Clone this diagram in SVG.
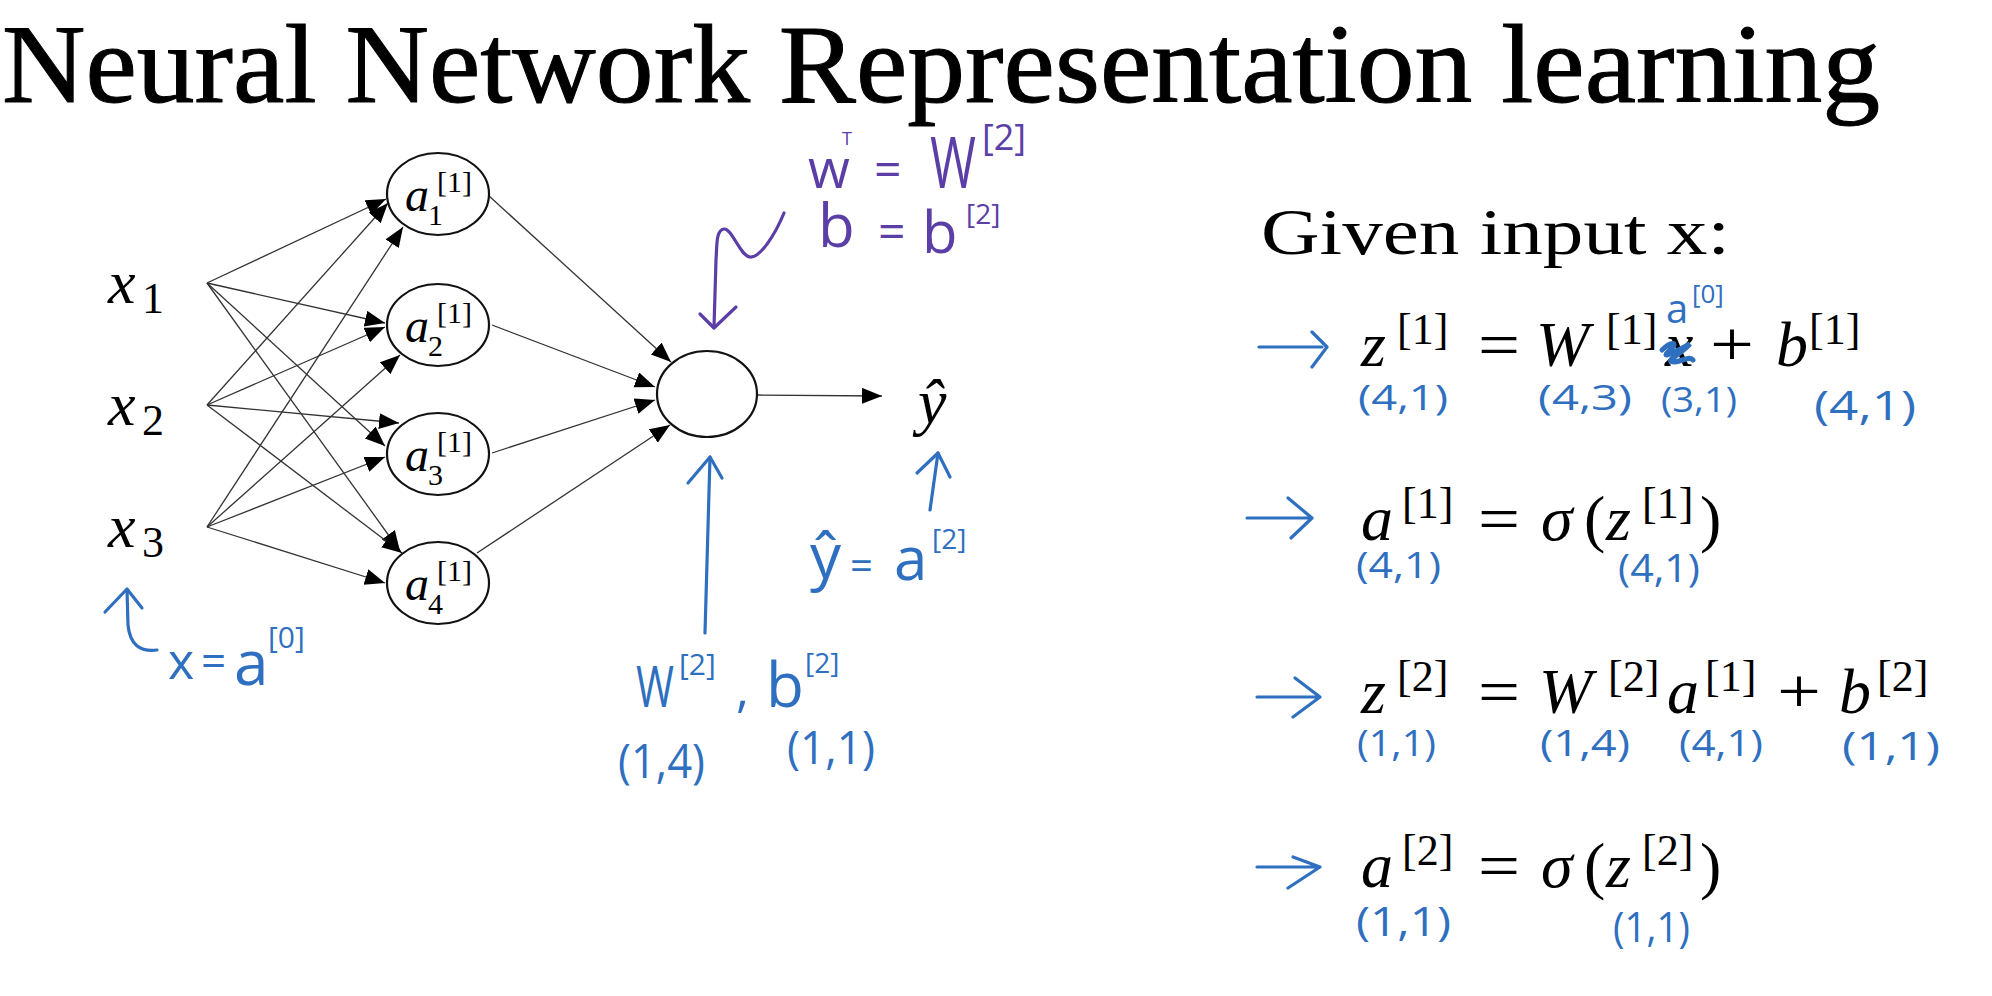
<svg xmlns="http://www.w3.org/2000/svg" width="1992" height="996" viewBox="0 0 1992 996">
<defs>
<style>
.title{font-family:"Liberation Serif","Times New Roman",serif;fill:#000}
.m{font-family:"Liberation Serif","Times New Roman",serif;fill:#000}
.mi{font-family:"Liberation Serif","Times New Roman",serif;font-style:italic;fill:#000}
.node{fill:#fff;stroke:#111;stroke-width:2.2}
.edge{stroke:#333;stroke-width:1.3;fill:none}
.hb{font-family:"Open Sans","Liberation Sans",sans-serif;fill:#2f6fbf}
.hp{font-family:"Open Sans","Liberation Sans",sans-serif;fill:#5b3ea6}
.sb{stroke:#2f6fbf;stroke-width:3.2;fill:none;stroke-linecap:round;stroke-linejoin:round}
.sp{stroke:#5b3ea6;stroke-width:3.2;fill:none;stroke-linecap:round;stroke-linejoin:round}
</style>
<marker id="ah" markerUnits="userSpaceOnUse" markerWidth="22" markerHeight="18" refX="20" refY="8" orient="auto">
<path d="M0,0 L20,8 L0,16 z" fill="#000"/>
</marker>
</defs>
<rect width="1992" height="996" fill="#fff"/>

<text class="title" x="2" y="102" font-size="112" stroke="#000" stroke-width="1" textLength="1878" lengthAdjust="spacingAndGlyphs">Neural Network Representation learning</text>

<g id="connectors">
<line class="edge" x1="207" y1="283" x2="386" y2="199" marker-end="url(#ah)"/>
<line class="edge" x1="207" y1="283" x2="385" y2="323" marker-end="url(#ah)"/>
<line class="edge" x1="207" y1="283" x2="385" y2="446" marker-end="url(#ah)"/>
<line class="edge" x1="207" y1="283" x2="400" y2="551" marker-end="url(#ah)"/>
<line class="edge" x1="207" y1="405" x2="388" y2="203" marker-end="url(#ah)"/>
<line class="edge" x1="207" y1="405" x2="385" y2="327" marker-end="url(#ah)"/>
<line class="edge" x1="207" y1="405" x2="399" y2="423" marker-end="url(#ah)"/>
<line class="edge" x1="207" y1="405" x2="402" y2="553" marker-end="url(#ah)"/>
<line class="edge" x1="207" y1="527" x2="403" y2="227" marker-end="url(#ah)"/>
<line class="edge" x1="207" y1="527" x2="400" y2="355" marker-end="url(#ah)"/>
<line class="edge" x1="207" y1="527" x2="385" y2="457" marker-end="url(#ah)"/>
<line class="edge" x1="207" y1="527" x2="385" y2="583" marker-end="url(#ah)"/>
<line class="edge" x1="488" y1="195" x2="671" y2="362" marker-end="url(#ah)"/>
<line class="edge" x1="492" y1="325" x2="655" y2="387" marker-end="url(#ah)"/>
<line class="edge" x1="492" y1="453" x2="655" y2="400" marker-end="url(#ah)"/>
<line class="edge" x1="477" y1="553" x2="670" y2="425" marker-end="url(#ah)"/>
<line class="edge" x1="757" y1="395" x2="882" y2="396" marker-end="url(#ah)"/>
</g>

<g id="x1"><text class="mi" x="108" y="303" font-size="62">x</text><text class="m" x="142" y="313" font-size="44">1</text></g>
<g id="x2"><text class="mi" x="108" y="425" font-size="62">x</text><text class="m" x="142" y="435" font-size="44">2</text></g>
<g id="x3"><text class="mi" x="108" y="547" font-size="62">x</text><text class="m" x="142" y="557" font-size="44">3</text></g>

<g id="a1"><ellipse class="node" cx="438" cy="194" rx="51" ry="41"/><text class="mi" x="405" y="211" font-size="48">a</text><text class="m" x="428" y="225" font-size="30">1</text><text class="m" x="437" y="192" font-size="30">[1]</text></g>
<g id="a2"><ellipse class="node" cx="438" cy="325" rx="51" ry="41"/><text class="mi" x="405" y="342" font-size="48">a</text><text class="m" x="428" y="356" font-size="30">2</text><text class="m" x="437" y="323" font-size="30">[1]</text></g>
<g id="a3"><ellipse class="node" cx="438" cy="454" rx="51" ry="41"/><text class="mi" x="405" y="471" font-size="48">a</text><text class="m" x="428" y="485" font-size="30">3</text><text class="m" x="437" y="452" font-size="30">[1]</text></g>
<g id="a4"><ellipse class="node" cx="438" cy="583" rx="51" ry="41"/><text class="mi" x="405" y="600" font-size="48">a</text><text class="m" x="428" y="614" font-size="30">4</text><text class="m" x="437" y="581" font-size="30">[1]</text></g>

<g id="out"><ellipse class="node" cx="707" cy="394" rx="50" ry="43"/></g>
<g id="yhat"><text class="mi" x="918" y="423" font-size="64">ŷ</text></g>

<g id="purple-note">
<path class="sp" d="M784,213 C775,235 760,258 750,257 C740,256 732,228 724,229 C716,230 717,245 716,260 L714,327"/>
<path class="sp" d="M700,314 L714,328 L736,307"/>
<text class="hp" x="808" y="188" font-size="54">w</text>
<text class="hp" x="842" y="145" font-size="18">T</text>
<text class="hp" x="874" y="186" font-size="48">=</text>
<text class="hp" x="930" y="188" font-size="72" textLength="46" lengthAdjust="spacingAndGlyphs">W</text>
<text class="hp" x="982" y="150" font-size="36">[2]</text>
<text class="hp" x="818" y="247" font-size="60">b</text>
<text class="hp" x="878" y="248" font-size="48">=</text>
<text class="hp" x="922" y="253" font-size="58">b</text>
<text class="hp" x="966" y="224" font-size="28">[2]</text>
</g>

<g id="blue-notes-left">
<path class="sb" d="M157,650 C140,652 130,645 128,625 L127,590"/>
<path class="sb" d="M105,612 L127,589 L142,608"/>
<text class="hb" x="168" y="679" font-size="50">x</text>
<text class="hb" x="201" y="677" font-size="44">=</text>
<text class="hb" x="234" y="685" font-size="62">a</text>
<text class="hb" x="268" y="648" font-size="30">[0]</text>

<path class="sb" d="M705,633 L710,457"/>
<path class="sb" d="M688,483 L710,457 L722,478"/>
<path class="sb" d="M930,510 L938,453"/>
<path class="sb" d="M917,473 L938,453 L950,477"/>
<text class="hb" x="810" y="578" font-size="62">ŷ</text>
<text class="hb" x="850" y="580" font-size="40">=</text>
<text class="hb" x="894" y="580" font-size="60">a</text>
<text class="hb" x="932" y="549" font-size="28">[2]</text>

<text class="hb" x="636" y="707" font-size="56" textLength="38" lengthAdjust="spacingAndGlyphs">W</text>
<text class="hb" x="679" y="675" font-size="30">[2]</text>
<text class="hb" x="736" y="707" font-size="50">,</text>
<text class="hb" x="766" y="707" font-size="62">b</text>
<text class="hb" x="805" y="673" font-size="28">[2]</text>
<text class="hb" x="618" y="778" font-size="48" textLength="87" lengthAdjust="spacingAndGlyphs">(1,4)</text>
<text class="hb" x="787" y="764" font-size="46" textLength="88" lengthAdjust="spacingAndGlyphs">(1,1)</text>
</g>

<text class="title" x="1261" y="254" font-size="66" textLength="469" lengthAdjust="spacingAndGlyphs">Given input x:</text>

<g id="eq1">
<path class="sb" d="M1259,347 L1322,347 M1312,332 L1327,347 L1312,367"/>
<text class="mi" x="1361" y="366" font-size="64">z</text>
<text class="m" x="1397" y="344" font-size="44">[1]</text>
<text class="m" x="1478" y="366" font-size="64" textLength="42" lengthAdjust="spacingAndGlyphs">=</text>
<text class="mi" x="1536" y="366" font-size="64">W</text>
<text class="m" x="1606" y="344" font-size="44">[1]</text>
<text class="mi" x="1665" y="366" font-size="64">x</text>
<path d="M1662,350 C1672,340 1680,342 1668,352 C1660,360 1678,350 1690,344 C1680,355 1662,362 1675,362 C1685,360 1690,356 1693,360" stroke="#2f6fbf" stroke-width="5" fill="none" stroke-linecap="round"/>
<text class="hb" x="1666" y="323" font-size="40">a</text>
<text class="hb" x="1692" y="303" font-size="26">[0]</text>
<text class="m" x="1710" y="366" font-size="64" textLength="44" lengthAdjust="spacingAndGlyphs">+</text>
<text class="mi" x="1776" y="366" font-size="64">b</text>
<text class="m" x="1809" y="344" font-size="44">[1]</text>
<text class="hb" x="1358" y="410" font-size="34" textLength="90" lengthAdjust="spacingAndGlyphs">(4,1)</text>
<text class="hb" x="1538" y="410" font-size="34" textLength="94" lengthAdjust="spacingAndGlyphs">(4,3)</text>
<text class="hb" x="1661" y="412" font-size="34" textLength="76" lengthAdjust="spacingAndGlyphs">(3,1)</text>
<text class="hb" x="1814" y="420" font-size="40" textLength="102" lengthAdjust="spacingAndGlyphs">(4,1)</text>
</g>

<g id="eq2">
<path class="sb" d="M1247,518 L1308,518 M1288,498 L1312,518 L1291,538"/>
<text class="mi" x="1361" y="540" font-size="64">a</text>
<text class="m" x="1402" y="518" font-size="44">[1]</text>
<text class="m" x="1478" y="540" font-size="64" textLength="42" lengthAdjust="spacingAndGlyphs">=</text>
<text class="mi" x="1541" y="540" font-size="64">σ</text>
<text class="m" x="1584" y="540" font-size="64">(</text>
<text class="mi" x="1606" y="540" font-size="64">z</text>
<text class="m" x="1642" y="518" font-size="44">[1]</text>
<text class="m" x="1700" y="540" font-size="64">)</text>
<text class="hb" x="1356" y="578" font-size="36" textLength="85" lengthAdjust="spacingAndGlyphs">(4,1)</text>
<text class="hb" x="1618" y="582" font-size="38" textLength="82" lengthAdjust="spacingAndGlyphs">(4,1)</text>
</g>

<g id="eq3">
<path class="sb" d="M1257,697 L1316,697 M1295,678 L1320,697 L1293,717"/>
<text class="mi" x="1361" y="713" font-size="64">z</text>
<text class="m" x="1397" y="691" font-size="44">[2]</text>
<text class="m" x="1478" y="713" font-size="64" textLength="42" lengthAdjust="spacingAndGlyphs">=</text>
<text class="mi" x="1539" y="713" font-size="64">W</text>
<text class="m" x="1608" y="691" font-size="44">[2]</text>
<text class="mi" x="1667" y="713" font-size="64">a</text>
<text class="m" x="1705" y="691" font-size="44">[1]</text>
<text class="m" x="1777" y="713" font-size="64" textLength="44" lengthAdjust="spacingAndGlyphs">+</text>
<text class="mi" x="1839" y="713" font-size="64">b</text>
<text class="m" x="1877" y="691" font-size="44">[2]</text>
<text class="hb" x="1357" y="756" font-size="36" textLength="79" lengthAdjust="spacingAndGlyphs">(1,1)</text>
<text class="hb" x="1540" y="756" font-size="36" textLength="90" lengthAdjust="spacingAndGlyphs">(1,4)</text>
<text class="hb" x="1679" y="756" font-size="36" textLength="84" lengthAdjust="spacingAndGlyphs">(4,1)</text>
<text class="hb" x="1842" y="760" font-size="38" textLength="98" lengthAdjust="spacingAndGlyphs">(1,1)</text>
</g>

<g id="eq4">
<path class="sb" d="M1257,867 L1316,867 M1293,857 L1320,867 L1288,888"/>
<text class="mi" x="1361" y="887" font-size="64">a</text>
<text class="m" x="1402" y="865" font-size="44">[2]</text>
<text class="m" x="1478" y="887" font-size="64" textLength="42" lengthAdjust="spacingAndGlyphs">=</text>
<text class="mi" x="1541" y="887" font-size="64">σ</text>
<text class="m" x="1584" y="887" font-size="64">(</text>
<text class="mi" x="1606" y="887" font-size="64">z</text>
<text class="m" x="1642" y="865" font-size="44">[2]</text>
<text class="m" x="1700" y="887" font-size="64">)</text>
<text class="hb" x="1356" y="936" font-size="40" textLength="95" lengthAdjust="spacingAndGlyphs">(1,1)</text>
<text class="hb" x="1613" y="942" font-size="42" textLength="77" lengthAdjust="spacingAndGlyphs">(1,1)</text>
</g>
</svg>
